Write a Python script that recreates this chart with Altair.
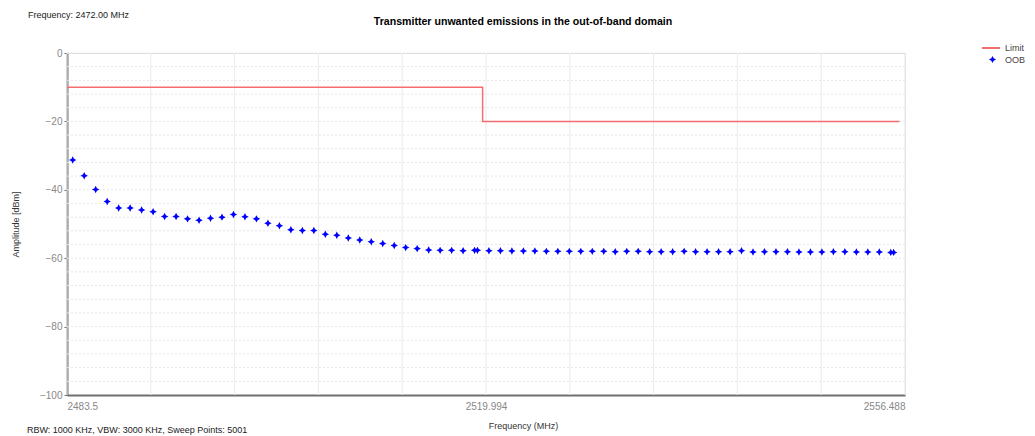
import altair as alt
import pandas as pd

# ---------------- data ----------------
oob_freq = [2484, 2485, 2486, 2487, 2488, 2489, 2490, 2491, 2492, 2493, 2494, 2495,
            2496, 2497, 2498, 2499, 2500, 2501, 2502, 2503, 2504, 2505, 2506, 2507,
            2508, 2509, 2510, 2511, 2512, 2513, 2514, 2515, 2516, 2517, 2518, 2519,
            2519.25, 2520.25, 2521.25, 2522.25, 2523.25, 2524.25, 2525.25, 2526.25,
            2527.25, 2528.25, 2529.25, 2530.25, 2531.25, 2532.25, 2533.25, 2534.25,
            2535.25, 2536.25, 2537.25, 2538.25, 2539.25, 2540.25, 2541.25, 2542.25,
            2543.25, 2544.25, 2545.25, 2546.25, 2547.25, 2548.25, 2549.25, 2550.25,
            2551.25, 2552.25, 2553.25, 2554.25, 2555.25, 2555.5]
oob_amp = [-31.3, -35.9, -39.9, -43.4, -45.3, -45.3, -45.9, -46.4, -47.8, -47.8, -48.5, -48.9,
           -48.3, -48.0, -47.2, -47.9, -48.5, -49.8, -50.5, -51.7, -51.9, -51.9, -53.0, -53.3,
           -54.1, -54.7, -55.2, -55.7, -56.3, -56.9, -57.2, -57.6, -57.7, -57.7, -57.8, -57.7,
           -57.7, -57.8, -57.8, -57.9, -57.9, -57.9, -58.0, -58.0, -58.0, -58.0, -58.0, -58.0,
           -58.1, -58.0, -58.0, -58.1, -58.1, -58.1, -58.0, -58.1, -58.1, -58.1, -58.1, -57.8,
           -58.2, -58.1, -58.1, -58.1, -58.2, -58.2, -58.2, -58.1, -58.1, -58.2, -58.2, -58.2,
           -58.3, -58.3]

limit_freq = [2483.5, 2519.7, 2556.0]
limit_amp = [-10, -20, -20]

x_ticks = [2483.5, 2519.994, 2556.488]
x_grid = [2483.5, 2490.799, 2498.097, 2505.396, 2512.695, 2519.994,
          2527.293, 2534.592, 2541.890, 2549.189, 2556.488]
y_ticks = [0, -20, -40, -60, -80, -100]
y_grid = [0, -4, -8, -12, -16, -20, -24, -28, -32, -36, -40, -44, -48, -52, -56,
          -60, -64, -68, -72, -76, -80, -84, -88, -92, -96]

title_text = "Transmitter unwanted emissions in the out-of-band domain"
top_left_text = "Frequency: 2472.00 MHz"
bottom_left_text = "RBW: 1000 KHz,  VBW: 3000 KHz,  Sweep Points: 5001"
x_title = "Frequency (MHz)"
y_title = "Amplitude [dBm]"

# ---------------- frames ----------------
oob_df = pd.DataFrame({"freq": oob_freq, "amp": oob_amp, "series": "OOB"})
lim_df = pd.DataFrame({"freq": limit_freq, "amp": limit_amp, "series": "Limit"})
xg_df = pd.DataFrame({"freq": x_grid})
yg_df = pd.DataFrame({"amp": y_grid})
one = pd.DataFrame({"k": [0]})

FONT = "Liberation Sans"
W, H = 838, 342

xs = alt.Scale(domain=[2483.5, 2556.488], nice=False, zero=False)
ys = alt.Scale(domain=[-100, 0], nice=False, zero=False)

star = "M0,-1L0.34,-0.34L1,0L0.34,0.34L0,1L-0.34,0.34L-1,0L-0.34,-0.34Z"

vgrid = alt.Chart(xg_df).mark_rule(color="#ebebeb", strokeWidth=1).encode(
    x=alt.X("freq:Q", scale=xs,
            axis=alt.Axis(values=x_ticks, format=".10~f", grid=False, ticks=False,
                          labelColor="#888888", labelFontSize=10, labelFont=FONT,
                          labelPadding=6, domainColor="#707070", domainWidth=2,
                          title=x_title, titleFont=FONT, titleFontSize=9,
                          titleFontWeight="normal", titleColor="#333333",
                          titleX=456, titleY=26)),
)

hgrid = alt.Chart(yg_df).mark_rule(color="#e6e6e6", strokeWidth=1, strokeDash=[2, 2]).encode(
    y=alt.Y("amp:Q", scale=ys,
            axis=alt.Axis(values=y_ticks, format="d", grid=False, tickSize=3,
                          tickColor="#707070",
                          labelColor="#888888", labelFontSize=10, labelFont=FONT,
                          labelPadding=2, domainColor="#707070", domainWidth=2,
                          title=y_title, titleFont=FONT, titleFontSize=9,
                          titleFontWeight="normal", titleColor="#333333",
                          titleX=-52, titleY=171, titleAngle=270,
                          titleAlign="center", titleBaseline="middle")),
)

limit = alt.Chart(lim_df).mark_line(interpolate="step-after", strokeWidth=1.5).encode(
    x=alt.X("freq:Q", scale=xs),
    y=alt.Y("amp:Q", scale=ys),
    color=alt.Color("series:N",
                    scale=alt.Scale(domain=["Limit"], range=["#f46e6e"]),
                    legend=alt.Legend(title=None, orient="none", legendX=914, legendY=-15,
                                      symbolType="stroke", symbolSize=324,
                                      symbolStrokeWidth=2, labelFont=FONT,
                                      labelFontSize=9, labelColor="#444444",
                                      labelOffset=4)),
)

points = alt.Chart(oob_df).mark_point(filled=True, color="#0000ff", opacity=1, size=55).encode(
    x=alt.X("freq:Q", scale=xs),
    y=alt.Y("amp:Q", scale=ys),
    shape=alt.Shape("series:N",
                    scale=alt.Scale(domain=["OOB"], range=[star]),
                    legend=alt.Legend(title=None, orient="none", legendX=921, legendY=2,
                                      symbolSize=50, symbolFillColor="#0000ff",
                                      symbolStrokeColor="#0000ff", symbolOpacity=1,
                                      labelFont=FONT, labelFontSize=9,
                                      labelColor="#444444", labelOffset=8)),
)

title = alt.Chart(one).mark_text(font=FONT, fontSize=10.6, fontWeight="bold",
                                 color="#000000", align="center", baseline="middle").encode(
    x=alt.value(456), y=alt.value(-31), text=alt.value(title_text))

top_left = alt.Chart(one).mark_text(font=FONT, fontSize=9, color="#222222",
                                    align="left", baseline="middle").encode(
    x=alt.value(-39), y=alt.value(-38), text=alt.value(top_left_text))

bottom_left = alt.Chart(one).mark_text(font=FONT, fontSize=9, color="#222222",
                                       align="left", baseline="middle").encode(
    x=alt.value(-40), y=alt.value(377), text=alt.value(bottom_left_text))

chart = alt.layer(vgrid, hgrid, limit, points, title, top_left, bottom_left).properties(
    width=W, height=H,
    autosize=alt.AutoSizeParams(type="none"),
    padding={"left": 59, "top": 45, "right": 122, "bottom": 40},
).configure_view(stroke=None).configure(background="#ffffff")

chart.save("out.html", embed_options={"renderer": "svg", "actions": False})
